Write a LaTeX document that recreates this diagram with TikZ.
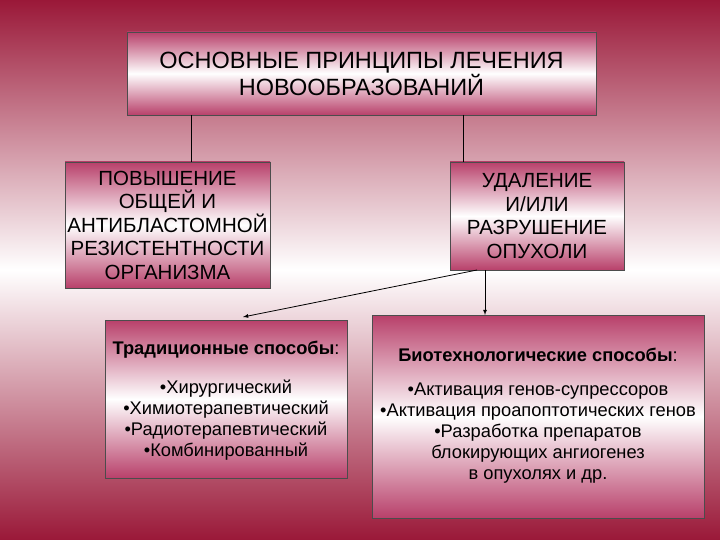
\documentclass[tikz,border=0pt]{standalone}
\usepackage{fontspec}
\setmainfont{Liberation Sans}
\definecolor{bgdark}{HTML}{9A1838}
\definecolor{boxpink}{HTML}{B8406A}
\begin{document}
\begin{tikzpicture}[x=1pt,y=-1pt,
  box/.style={draw=black!70,line width=0.6pt,top color=boxpink,bottom color=boxpink,middle color=white,shading angle=0},
  ttxt/.style={align=center,font=\fontsize{23.5}{27}\selectfont},
  txt/.style={align=center,font=\fontsize{20.5}{23.5}\selectfont},
  stxt/.style={align=center,font=\fontsize{18.3}{21}\selectfont},
  conn/.style={black,line width=0.8pt},
  arr/.style={conn,-latex}]
\useasboundingbox (0,0) rectangle (720,540);
\shade[top color=bgdark,bottom color=bgdark,middle color=white] (0,0) rectangle (720,540);
\node[box,minimum width=469,minimum height=83,inner sep=0] (title) at (361.5,73.5) {};
\node[ttxt] at (title) {ОСНОВНЫЕ ПРИНЦИПЫ ЛЕЧЕНИЯ\\НОВООБРАЗОВАНИЙ};
\node[box,minimum width=205,minimum height=126,inner sep=0] (left) at (167.5,225) {};
\node[txt] at (left) {ПОВЫШЕНИЕ\\ОБЩЕЙ И\\АНТИБЛАСТОМНОЙ\\РЕЗИСТЕНТНОСТИ\\ОРГАНИЗМА};
\node[box,minimum width=174,minimum height=108,inner sep=0] (right) at (537,216) {};
\node[txt] at (right) {УДАЛЕНИЕ\\И/ИЛИ\\РАЗРУШЕНИЕ\\ОПУХОЛИ};
\node[box,minimum width=242,minimum height=158,inner sep=0] (trad) at (226,399) {};
\node[stxt,anchor=north] (tradt) at (226,338) {\textbf{Традиционные способы}:\\[18pt]•Хирургический\\•Химиотерапевтический\\•Радиотерапевтический\\•Комбинированный};
\node[box,minimum width=332,minimum height=203,inner sep=0] (bio) at (538,416.5) {};
\node[stxt,anchor=north] (biot) at (538,345) {\textbf{Биотехнологические способы}:\\[13pt]•Активация генов-супрессоров\\•Активация проапоптотических генов\\•Разработка препаратов\\блокирующих ангиогенез\\в опухолях и др.};
\draw[conn] (191,115) -- (191,162);
\draw[conn] (463,115) -- (463,162);
\coordinate (s1) at (477,270);
\coordinate (e1) at (243,317);
\draw[arr] (s1) -- (e1);
\draw[arr] (485,270) -- (485,315);
\end{tikzpicture}
\end{document}
